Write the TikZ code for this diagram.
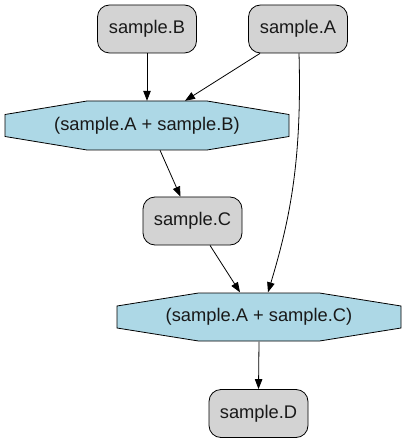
\documentclass[tikz,border=0pt]{standalone}
\usepackage{fontspec}
\setmainfont{Liberation Sans}
\usetikzlibrary{arrows.meta,calc}
\definecolor{boxgray}{RGB}{211,211,211}
\definecolor{opblue}{RGB}{173,216,230}
\tikzset{
  var/.style={draw=black, fill=boxgray, rounded corners=12pt, minimum width=99pt, minimum height=48pt, inner sep=0pt, line width=0.8pt, font=\fontsize{18.3}{21}\selectfont, text=black!90},
  op/.style={minimum width=284pt, minimum height=49pt, inner sep=0pt, font=\fontsize{18.3}{21}\selectfont, text=black!90},
  octo/.style={draw=black, fill=opblue, line width=0.8pt},
  edge/.style={draw=black, line width=0.8pt, -{Triangle[length=10pt,width=7.5pt]}}
}
\begin{document}
\begin{tikzpicture}[x=1pt,y=-1pt]
\useasboundingbox (0,0) rectangle (405,443);
% octagon backgrounds
\path[octo] (87,101) -- (207,101) -- (289,114.5) -- (289,136.5) -- (207,150) -- (87,150) -- (5,136.5) -- (5,114.5) -- cycle;
\path[octo] (198.5,293) -- (319.5,293) -- (401,306) -- (401,328) -- (319.5,341) -- (198.5,341) -- (117,328) -- (117,306) -- cycle;
\node[var] (B) at (147,29) {sample.B};
\node[var] (A) at (298,29) {sample.A};
\node[op] (o1) at (147,125.5) {(sample.A + sample.B)};
\node[var] (C) at (192.5,221) {sample.C};
\node[op] (o2) at (259,317) {(sample.A + sample.C)};
\node[var] (D) at (258.5,413.5) {sample.D};
\draw[edge] (B.south) -- (o1.north);
\draw[edge] ($(A.south)+(-38,0)$) -- ($(o1.north)+(38,0)$);
\draw[edge] ($(o1.south)+(13,0)$) -- ($(C.north)+(-12,0)$);
\draw[edge] ($(C.south)+(17.5,0)$) -- ($(o2.north)+(-19,0)$);
\draw[edge] ($(A.south)+(1,0)$) .. controls ($(A.south)+(4,107)$) and ($(o2.north)+(31,-73)$) .. ($(o2.north)+(9,0)$);
\draw[edge] (o2.south) -- (D.north);
\end{tikzpicture}
\end{document}
